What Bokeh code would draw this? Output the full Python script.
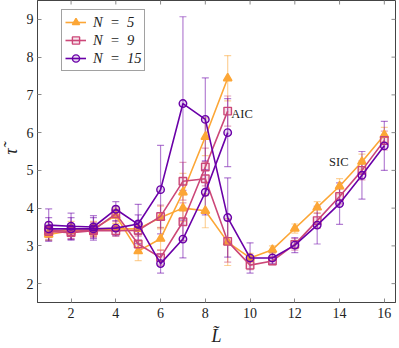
import math
from bokeh.plotting import figure
from bokeh.models import ColumnDataSource, Whisker, TeeHead, Legend, LegendItem, FixedTicker, Label
from bokeh.embed import file_html
from bokeh.resources import INLINE

# ---------------- data ----------------
L_aic = [1, 2, 3, 4, 5, 6, 7, 8, 9]
L_sic = [1, 2, 3, 4, 5, 6, 7, 8, 9, 10, 11, 12, 13, 14, 15, 16]

n5_aic = [3.35, 3.45, 3.45, 3.80, 2.86, 3.19, 4.42, 5.89, 7.44]
n5_aic_err = [0.20, 0.20, 0.20, 0.20, 0.25, 0.30, 0.50, 0.50, 0.60]
n5_sic = [3.30, 3.40, 3.42, 3.45, 3.45, 3.75, 4.00, 3.93, 3.10, 2.68, 2.90, 3.46, 4.02, 4.58, 5.23, 5.94]
n5_sic_err = [0.15, 0.15, 0.15, 0.15, 0.15, 0.30, 0.35, 0.45, 0.62, 0.12, 0.10, 0.12, 0.15, 0.20, 0.20, 0.20]

n9_aic = [3.42, 3.38, 3.42, 3.85, 3.05, 2.69, 3.64, 5.09, 6.57]
n9_aic_err = [0.20, 0.20, 0.20, 0.20, 0.25, 0.20, 0.50, 0.50, 0.40]
n9_sic = [3.38, 3.35, 3.40, 3.40, 3.41, 3.78, 4.71, 4.78, 3.12, 2.49, 2.60, 3.04, 3.67, 4.31, 5.00, 5.79]
n9_sic_err = [0.15, 0.15, 0.15, 0.15, 0.15, 0.30, 0.50, 0.45, 0.55, 0.12, 0.10, 0.15, 0.20, 0.20, 0.25, 0.25]

n15_aic = [3.55, 3.52, 3.50, 3.97, 3.57, 2.53, 3.18, 4.42, 6.00]
n15_aic_err = [0.43, 0.35, 0.30, 0.20, 0.25, 0.25, 0.50, 0.60, 0.90]
n15_sic = [3.45, 3.45, 3.45, 3.47, 3.58, 4.49, 6.77, 6.35, 3.75, 2.68, 2.68, 3.02, 3.55, 4.12, 4.87, 5.65]
n15_sic_err = [0.30, 0.30, 0.30, 0.20, 0.52, 1.17, 2.30, 1.10, 1.05, 0.40, 0.15, 0.20, 0.50, 0.55, 0.63, 0.65]

series_labels = ["N\u2002=\u20025", "N\u2002=\u20029", "N\u2002=\u200215"]
x_ticks = [2, 4, 6, 8, 10, 12, 14, 16]
y_ticks = [2, 3, 4, 5, 6, 7, 8, 9]
X_MIN, X_MAX, Y_MIN, Y_MAX = 0.5, 16.5, 1.5, 9.5

colors = ["#fca636", "#cc4778", "#6a00a8"]
markers = ["triangle", "square", "circle"]
FONT = "Liberation Serif"
FRAME = "#444444"
TICK = "#8a8a8a"

p = figure(width=399, height=348,
           x_range=(X_MIN, X_MAX), y_range=(Y_MIN, Y_MAX),
           output_backend="svg", toolbar_location=None,
           min_border_left=37, min_border_right=1, min_border_top=0, min_border_bottom=45)
p.styles = {"margin-left": "-3px"}
p.grid.visible = False
p.outline_line_color = FRAME
p.outline_line_width = 1
p.background_fill_color = "white"
p.border_fill_color = "white"

for ax in (p.xaxis[0], p.yaxis[0]):
    ax.major_tick_in = 4
    ax.major_tick_out = 0
    ax.minor_tick_line_color = None
    ax.axis_line_color = FRAME
    ax.major_tick_line_color = TICK
    ax.major_label_text_font = FONT
    ax.major_label_text_font_size = "14px"
    ax.major_label_text_color = "#222222"
    ax.axis_label_text_font = FONT
    ax.axis_label_text_font_style = "italic"
    ax.axis_label_text_font_size = "18px"
    ax.axis_label_text_color = "#222222"

p.xaxis.ticker = FixedTicker(ticks=x_ticks)
p.yaxis.ticker = FixedTicker(ticks=y_ticks)
p.xaxis.major_label_standoff = 5
p.yaxis.major_label_standoff = 4
p.xaxis.axis_label = "L\u0303"
p.yaxis.axis_label = "\u03c4\u0303"
p.xaxis.axis_label_standoff = 5
p.yaxis.axis_label_standoff = 3

# mirrored inward ticks on top and right edges (half of each dash is clipped by the frame)
p.scatter(x=x_ticks, y=[Y_MAX] * len(x_ticks), marker="dash", angle=math.pi / 2,
          size=8, line_color=TICK, line_width=1)
p.scatter(x=[X_MAX] * len(y_ticks), y=y_ticks, marker="dash",
          size=8, line_color=TICK, line_width=1)

all_series = [
    (L_aic, n5_aic, n5_aic_err, L_sic, n5_sic, n5_sic_err),
    (L_aic, n9_aic, n9_aic_err, L_sic, n9_sic, n9_sic_err),
    (L_aic, n15_aic, n15_aic_err, L_sic, n15_sic, n15_sic_err),
]

legend_items = []
for i, (xa, ya, ea, xs, ys, es) in enumerate(all_series):
    c = colors[i]
    first = []
    for xx, yy, ee in ((xs, ys, es), (xa, ya, ea)):
        src = ColumnDataSource(dict(x=xx, y=yy,
                                    lo=[a - b for a, b in zip(yy, ee)],
                                    hi=[a + b for a, b in zip(yy, ee)]))
        w = Whisker(source=src, base="x", upper="hi", lower="lo", dimension="height",
                    line_color=c, line_alpha=0.5, line_width=1.2,
                    upper_head=TeeHead(size=7, line_color=c, line_alpha=0.5, line_width=1.2),
                    lower_head=TeeHead(size=7, line_color=c, line_alpha=0.5, line_width=1.2))
        p.add_layout(w)
    for xx, yy in ((xs, ys), (xa, ya)):
        src = ColumnDataSource(dict(x=xx, y=yy))
        ln = p.line("x", "y", source=src, line_color=c, line_width=1.6)
        fa = 1.0 if markers[i] == "triangle" else 0.15
        sc = p.scatter("x", "y", source=src, marker=markers[i], size=7.5 if i else 8.5,
                       line_color=c, line_width=1.4, fill_color=c, fill_alpha=fa)
        if not first:
            first = [ln, sc]
    legend_items.append(LegendItem(label=series_labels[i], renderers=first))

legend = Legend(items=legend_items, location=(24, 231),
                label_text_font=FONT, label_text_font_style="italic",
                label_text_font_size="14.5px", label_text_color="#222222",
                glyph_width=21, glyph_height=18, label_height=18, spacing=0,
                padding=3, margin=0, label_standoff=7,
                border_line_color=FRAME, border_line_width=1,
                background_fill_color="white", background_fill_alpha=1.0)
p.add_layout(legend)

p.add_layout(Label(x=9.16, y=6.49, text="AIC", text_font=FONT, text_font_size="12.5px",
                   text_color="#222222", text_baseline="middle", text_align="left"))
p.add_layout(Label(x=13.53, y=5.21, text="SIC", text_font=FONT, text_font_size="12.5px",
                   text_color="#222222", text_baseline="middle", text_align="left"))

open("out.html", "w").write(file_html(p, INLINE))
